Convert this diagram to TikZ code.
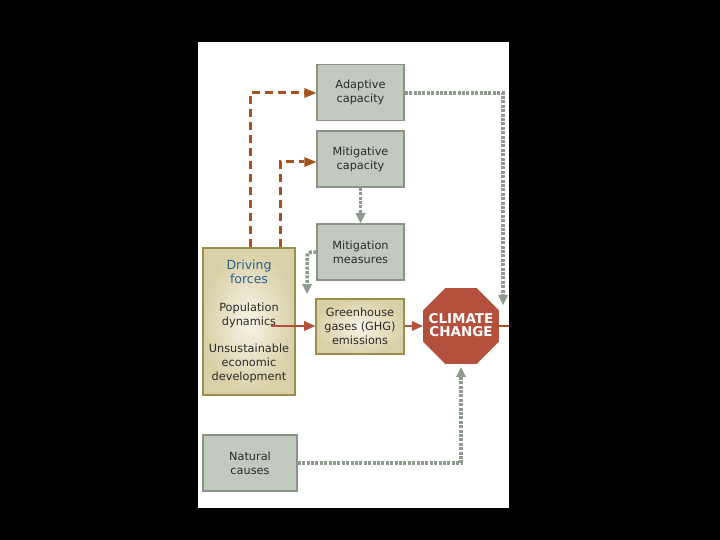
\documentclass[tikz,border=0pt]{standalone}
\usepackage{fontspec}
\setmainfont{DejaVu Sans}
\usetikzlibrary{arrows.meta,shapes.geometric}

\definecolor{boxgrey}{HTML}{C2CABF}
\definecolor{boxedge}{HTML}{8A9588}
\definecolor{beigeout}{HTML}{D8D0A6}
\definecolor{beigein}{HTML}{F7F4E6}
\definecolor{beigeedge}{HTML}{9C8E4E}
\definecolor{dotgrey}{HTML}{8E9A8E}
\definecolor{dashbrown}{HTML}{A5521C}
\definecolor{flowred}{HTML}{B5503C}
\definecolor{ccred}{HTML}{B4503E}
\definecolor{drvblue}{HTML}{2C5F8E}
\definecolor{txtdark}{HTML}{2B2B2B}

\tikzset{
  capbox/.style={draw=boxedge, line width=1.5pt, fill=boxgrey, minimum width=87pt,
    minimum height=56pt, inner sep=0pt, align=center, text=txtdark,
    font=\fontsize{11.3}{14}\selectfont},
  beigebox/.style={draw=beigeedge, line width=1.6pt, inner color=beigein,
    outer color=beigeout, inner sep=0pt, align=center, text=txtdark,
    font=\fontsize{11.3}{14}\selectfont},
  dotline/.style={dotgrey, line width=3.5pt, dash pattern=on 3pt off 1.4pt,
    -{Triangle[length=10pt,width=10pt,line width=0pt]}},
  brdash/.style={dashbrown, line width=3pt, dash pattern=on 8pt off 5pt,
    -{Triangle[length=12pt,width=10pt,line width=0pt]}},
  flow/.style={flowred, line width=2pt, -{Triangle[length=11pt,width=10pt,line width=0pt]}}
}

\begin{document}
\begin{tikzpicture}[x=1pt, y=-1pt] % 按像素坐标，y 向下
    % 背景与白色面板
    \fill[black] (0,0) rectangle (720,540);
    \fill[white] (198,42) rectangle (509,508);

    % === 各个方框 ===
    \node[capbox] (adapt) at (360.5,92.5) {Adaptive\\capacity};
    \node[capbox] (mitig) at (360.5,159) {Mitigative\\capacity};
    \node[capbox] (meas) at (360.5,252) {Mitigation\\measures};
    \node[beigebox, minimum width=88pt, minimum height=55pt] (ghg) at (360,326.5)
        {Greenhouse\\gases (GHG)\\emissions};
    \node[beigebox, minimum width=92pt, minimum height=147pt, text width=90pt] (drive) at (249,321.5)
        {{\color{drvblue}\fontsize{12.5}{13}\selectfont Driving\\forces}\\[14pt]
         Population\\dynamics\\[13pt]
         Unsustainable\\economic\\development};
    \node[capbox, minimum width=94pt] (nat) at (250,463) {Natural\\causes};

    % 八边形 + 文字
    \node[regular polygon, regular polygon sides=8, minimum size=82pt, inner sep=0pt,
          fill=ccred] (ccshape) at (461,326) {};
    \node[text=white, align=center, inner sep=0pt,
          font=\bfseries\fontsize{13.5}{13.5}\selectfont] (cc) at (461,325) {CLIMATE\\CHANGE};

    % 折点坐标
    \coordinate (bendA) at (250,93);
    \coordinate (bendM) at (280,162);
    \coordinate (rgt) at (503,93);
    \coordinate (tipR) at (503,305);
    \coordinate (mmL) at (307,252);
    \coordinate (tipM) at (307,294);
    \coordinate (popEnd) at (271,326);
    \coordinate (natC) at (461,463);
    \coordinate (outR) at (509,326);

    % === 驱动力 -> 适应/减缓能力（棕色虚线） ===
    \draw[brdash] (bendA |- drive.north) -- (bendA) -- (bendA -| adapt.west);
    \draw[brdash] (bendM |- drive.north) -- (bendM) -- (bendM -| mitig.west);

    % === 灰色点线 ===
    \draw[dotline] (adapt.east |- rgt) -- (rgt) -- (tipR);
    \draw[dotline] (mitig.south) -- (meas.north);
    \draw[dotline, rounded corners=4pt] (meas.west |- mmL) -- (mmL) -- (tipM);
    \draw[dotline] (nat.east |- natC) -- (natC) -- ([yshift=-3pt]ccshape.south);

    % === 排放链（红色实线） ===
    \draw[flow] (popEnd) -- (ghg.west |- popEnd);
    \draw[flow] (ghg.east |- popEnd) -- (ccshape.west);
    \draw[dashbrown, line width=2pt] ([xshift=-6pt]ccshape.east) -- (outR);
\end{tikzpicture}
\end{document}
